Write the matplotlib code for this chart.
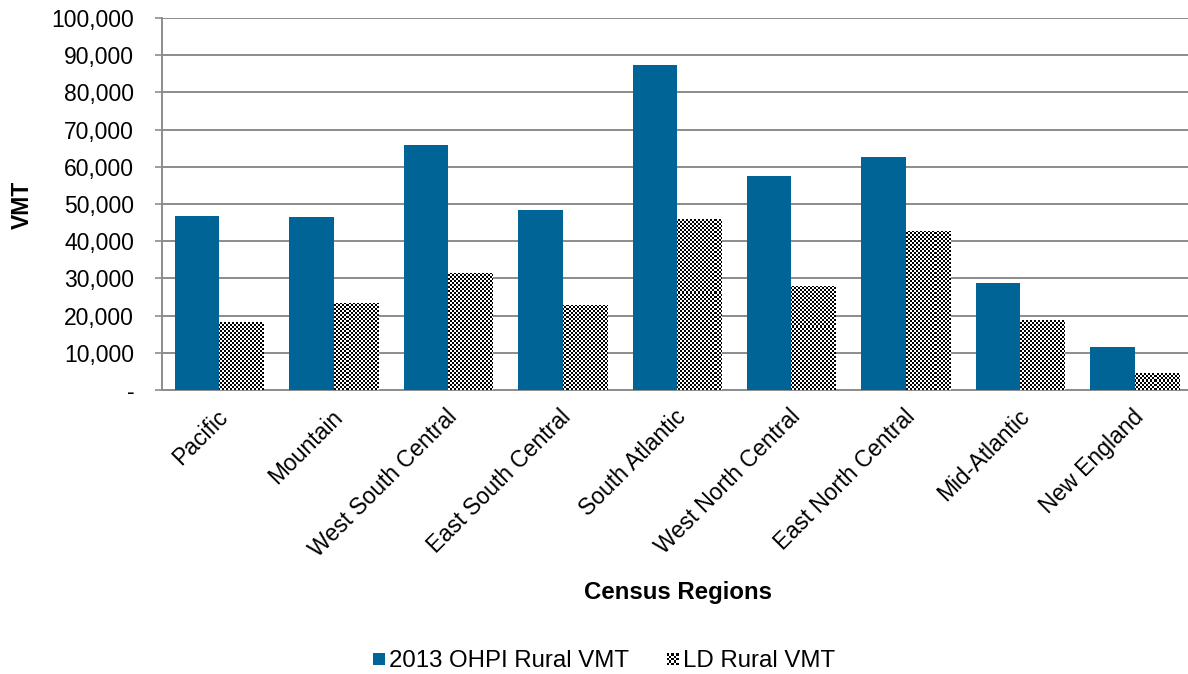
import numpy as np
import matplotlib
matplotlib.use("Agg")
import matplotlib.pyplot as plt
from matplotlib.patches import Rectangle
from matplotlib.legend_handler import HandlerBase
from matplotlib.ticker import FuncFormatter
from matplotlib.transforms import ScaledTranslation

plt.rcParams['font.family'] = ['Liberation Sans', 'DejaVu Sans']

regions = ["Pacific", "Mountain", "West South Central", "East South Central",
           "South Atlantic", "West North Central", "East North Central",
           "Mid-Atlantic", "New England"]
ohpi_rural_vmt = [46800, 46400, 65900, 48500, 87400, 57400, 62600, 28800, 11600]
ld_rural_vmt = [18200, 23300, 31400, 22800, 46000, 28000, 42700, 18800, 4600]
series_names = ["2013 OHPI Rural VMT", "LD Rural VMT"]
y_ticks = list(range(0, 100001, 10000))

BLUE = "#006496"
GRID = "#8c8c8c"
FS = 16.5

W, H, DPI = 1188, 674, 100
fig = plt.figure(figsize=(W / DPI, H / DPI), dpi=DPI)
ax_l, ax_r, ax_t, ax_b = 162, 1192, 18, 390
ax = fig.add_axes([ax_l / W, 1 - ax_b / H, (ax_r - ax_l) / W, (ax_b - ax_t) / H])

x = np.arange(len(regions))
bw = 0.388
bars_a = ax.bar(x - bw / 2, ohpi_rural_vmt, bw, color=BLUE, zorder=3)
bars_b = ax.bar(x + bw / 2, ld_rural_vmt, bw, color="white", zorder=3)

xlim = (-0.5, len(regions) - 0.5)
ylim = (0, 100000)
ax.set_xlim(*xlim)
ax.set_ylim(*ylim)

# fine black/white checkerboard fill for the second series, 2-px cells
cell = 2
nx = (ax_r - ax_l) // cell
ny = (ax_b - ax_t) // cell
checker = (np.add.outer(np.arange(ny), np.arange(nx)) % 2).astype(float)
for b in bars_b:
    im = ax.imshow(checker, cmap="gray", vmin=0, vmax=1, interpolation="nearest",
                   extent=(xlim[0], xlim[1], ylim[0], ylim[1]), aspect="auto",
                   origin="lower", zorder=4)
    im.set_clip_path(b)
ax.set_xlim(*xlim)
ax.set_ylim(*ylim)

# axes styling
ax.set_yticks(y_ticks)
ax.yaxis.set_major_formatter(FuncFormatter(lambda v, p: "-" if v == 0 else f"{int(v):,}"))
ax.grid(axis="y", color=GRID, linewidth=1.4, zorder=0)
for s in ("top", "right"):
    ax.spines[s].set_visible(False)
for s in ("left", "bottom"):
    ax.spines[s].set_color(GRID)
    ax.spines[s].set_linewidth(1.4)
ax.tick_params(axis="y", direction="out", length=5, color=GRID, width=1.2,
               labelsize=FS, pad=15, labelcolor="black")
ax.tick_params(axis="x", length=0, pad=11)
ax.set_xticks(x)
ax.set_xticklabels(regions, rotation=45, ha="right", va="top",
                   rotation_mode="anchor", fontsize=FS)
for lab in ax.get_xticklabels():
    lab.set_transform(lab.get_transform() + ScaledTranslation(-0.03, 0, fig.dpi_scale_trans))

fig.text(678 / W, 1 - 592 / H, "Census Regions", ha="center", va="center",
         fontsize=17.3, fontweight="bold")
fig.text(22 / W, 1 - 205 / H, "VMT", ha="center", va="center", rotation=90,
         fontsize=FS, fontweight="bold")


class CheckerHandler(HandlerBase):
    def create_artists(self, legend, orig_handle, xdescent, ydescent,
                       width, height, fontsize, trans):
        side = 8.5
        x0 = xdescent + width - side
        y0 = ydescent + (height - side) / 2 - 0.5
        n = 5
        c = side / n
        arts = [Rectangle((x0, y0), side, side, facecolor="white",
                          edgecolor="none", transform=trans)]
        for i in range(n):
            for j in range(n):
                if (i + j) % 2 == 0:
                    arts.append(Rectangle((x0 + i * c, y0 + j * c), c, c,
                                          facecolor="black", edgecolor="none",
                                          transform=trans))
        return arts


class SquareHandler(HandlerBase):
    def create_artists(self, legend, orig_handle, xdescent, ydescent,
                       width, height, fontsize, trans):
        side = 8.5
        x0 = xdescent + width - side
        y0 = ydescent + (height - side) / 2 - 0.5
        return [Rectangle((x0, y0), side, side, facecolor=BLUE,
                          edgecolor="none", transform=trans)]


ha = Rectangle((0, 0), 1, 1)
hb = Rectangle((0, 0), 1, 1)
fig.legend([ha, hb], series_names, loc="center", bbox_to_anchor=(604 / W, 1 - 661 / H),
           ncol=2, frameon=False, fontsize=17.3,
           handler_map={ha: SquareHandler(), hb: CheckerHandler()},
           handlelength=0.5, handletextpad=0.2, columnspacing=1.55)

fig.savefig("out.png", dpi=DPI)
